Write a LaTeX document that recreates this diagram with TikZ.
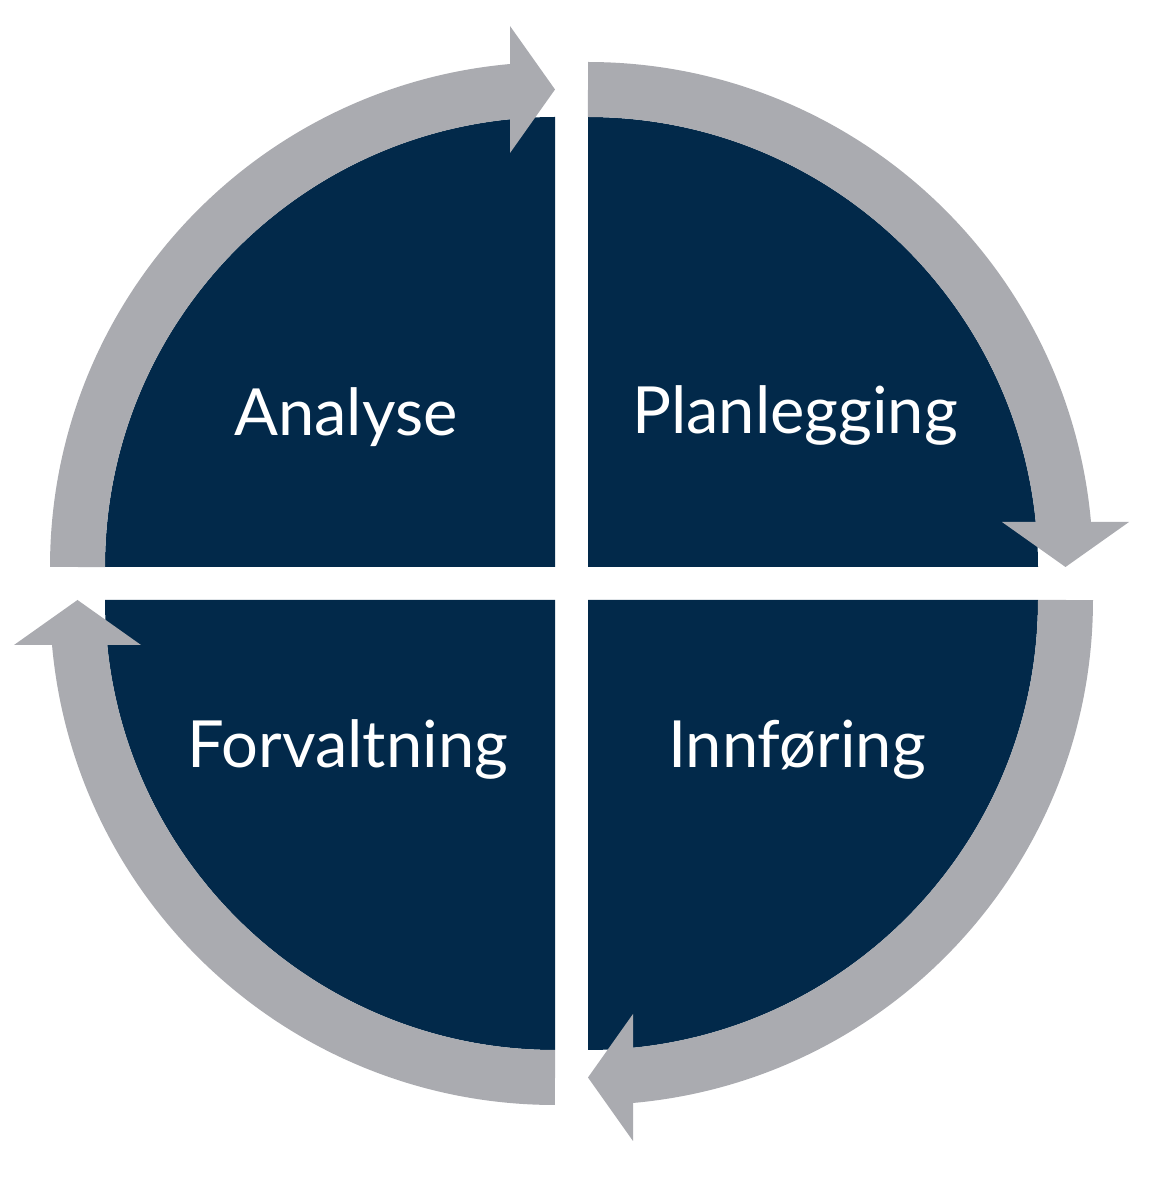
\documentclass[tikz,border=0pt]{standalone}
\usepackage{fontspec}
\setmainfont{Lato}
\usetikzlibrary{positioning}
\definecolor{navy}{RGB}{2,41,74}
\definecolor{ringgray}{RGB}{170,171,176}
\tikzset{
  quarter/.style={fill=navy},
  band/.style={draw=ringgray,line width=5.5mm},
  head/.style={fill=ringgray},
  phase/.style={text=white,anchor=base,inner sep=0pt,
    font=\fontsize{18.5}{22}\selectfont}
}
\begin{document}
\begin{tikzpicture}
\useasboundingbox (0,0) rectangle (11.5,11.77);
\coordinate (mid) at (5.715,5.935);
\foreach \a in {0,-90,-180,-270}{
  \begin{scope}[shift={(mid)},rotate=\a]
    \fill[quarter] (-0.165,0.165) -- (-4.665,0.165) arc[start angle=180,end angle=90,radius=4.5] -- cycle;
    \draw[band] (-4.94,0.165) arc[start angle=180,end angle=95,radius=4.775];
    \fill[head] (-0.615,4.305) -- (-0.615,5.575) -- (-0.165,4.94) -- cycle;
  \end{scope}
}
\node[phase] (analyse) at (3.46,7.41) {Analyse};
\node[phase] (plan) at (7.95,7.43) {Planlegging};
\node[phase] (forv) at (3.48,4.09) {Forvaltning};
\node[phase] (innf) at (7.97,4.09) {Innføring};
\end{tikzpicture}
\end{document}
